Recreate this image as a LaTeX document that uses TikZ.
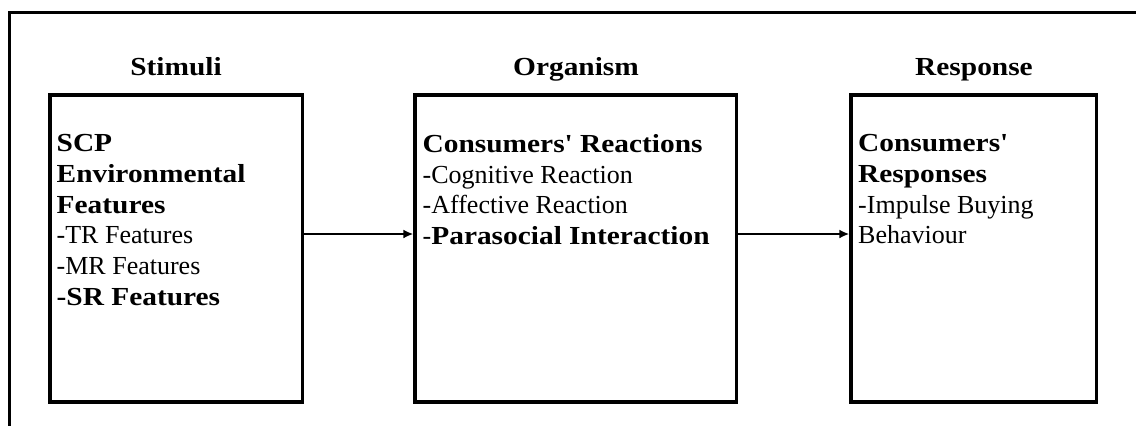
\documentclass[tikz,border=0pt]{standalone}
\usepackage{fontspec}
\setmainfont[Ligatures=TeXOff,BoldFeatures={FakeStretch=1.13}]{Liberation Serif}
\usetikzlibrary{arrows.meta}
\begin{document}
\begin{tikzpicture}[x=1pt,y=-1pt,
  frame/.style={line width=3pt},
  box/.style={draw,line width=3.3pt,inner sep=0pt,minimum width=#1,minimum height=307pt},
  title/.style={font=\fontsize{26}{30.8}\selectfont\bfseries,anchor=base,inner sep=0pt},
  txt/.style={font=\fontsize{26}{30.8}\selectfont,align=left,anchor=north west,inner sep=0pt},
  conn/.style={line width=2pt,-{Latex[length=10pt,width=9pt]}}]
\useasboundingbox (0,0) rectangle (1136,426);
\draw[frame] (9.5,426) -- (9.5,12.5) -- (1136,12.5);
\node[box=252.5pt] (b1) at (176.25,248.5) {};
\node[box=321.5pt] (b2) at (575.75,248.5) {};
\node[box=245.5pt] (b3) at (973.75,248.5) {};
\node[title] (h1) at (176,75.5) {Stimuli};
\node[title] (h2) at (576,75.5) {Organism};
\node[title] (h3) at (974,75.5) {Response};
\node[txt] (t1) at (56.5,134) {\textbf{SCP}\\\textbf{Environmental}\\\textbf{Features}\\-TR Features\\-MR Features\\\textbf{-SR Features}};
\node[txt] (t2) at (422.5,134) {\textbf{Consumers' Reactions}\\-Cognitive Reaction\\-Affective Reaction\\-\textbf{Parasocial Interaction}};
\node[txt] (t3) at (858,134) {\textbf{Consumers'}\\\textbf{Responses}\\-Impulse Buying\\Behaviour};
\draw[conn] ([yshift=14.5pt]b1.east) -- ([yshift=14.5pt]b2.west);
\draw[conn] ([yshift=14.5pt]b2.east) -- ([yshift=14.5pt]b3.west);
\end{tikzpicture}
\end{document}
